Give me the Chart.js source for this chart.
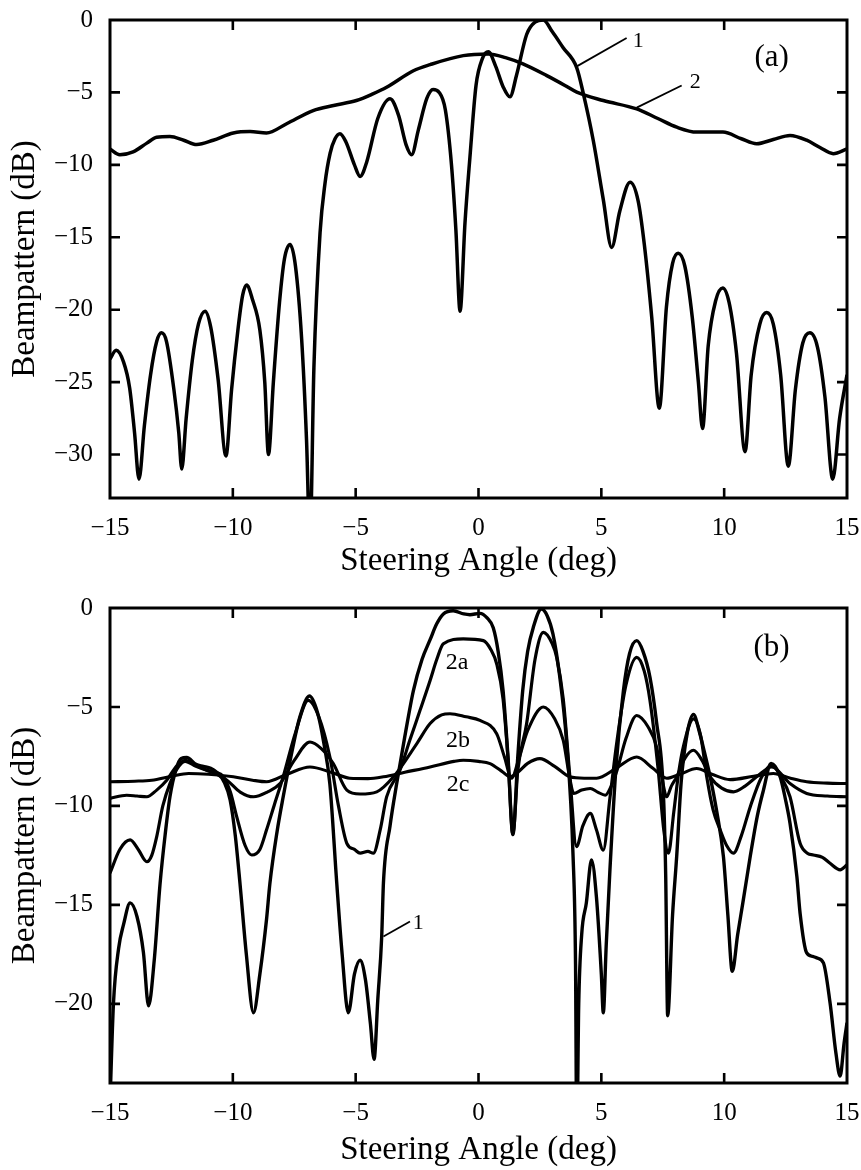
<!DOCTYPE html>
<html>
<head>
<meta charset="utf-8">
<script src="https://cdn.jsdelivr.net/npm/chart.js@4.4.1/dist/chart.umd.min.js"></script>
<style>
  html, body { margin: 0; padding: 0; background: #fff; }
  #wrap { position: relative; width: 861px; height: 1170px; background: #fff; }
  .panel { position: absolute; left: 0; width: 861px; height: 585px; }
</style>
</head>
<body>
<div id="wrap">
  <div class="panel" style="top:0"><canvas id="ca" width="861" height="585"></canvas></div>
  <div class="panel" style="top:585px"><canvas id="cb" width="861" height="585"></canvas></div>
</div>
<script>
// ---------------- DATA ----------------
const xTickValues = [-15, -10, -5, 0, 5, 10, 15];
const yTickValuesA = [0, -5, -10, -15, -20, -25, -30];
const yTickValuesB = [0, -5, -10, -15, -20];

// Panel (a), curve 1
const a1Angle = [-15.0,-14.75,-14.45,-14.2,-14.0,-13.82,-13.6,-13.35,-13.1,-12.9,-12.7,-12.4,-12.2,-12.08,-11.9,-11.65,-11.4,-11.13,-10.9,-10.6,-10.28,-10.05,-9.8,-9.6,-9.44,-9.2,-8.9,-8.7,-8.55,-8.35,-8.1,-7.9,-7.67,-7.45,-7.2,-7.0,-6.86,-6.7,-6.45,-6.25,-6.04,-5.84,-5.64,-5.4,-5.05,-4.82,-4.55,-4.1,-3.6,-3.25,-2.95,-2.72,-2.45,-2.1,-1.85,-1.6,-1.35,-1.1,-0.92,-0.75,-0.55,-0.35,-0.1,0.15,0.4,0.7,1.0,1.28,1.55,1.96,2.3,2.64,3.0,3.44,4.0,4.27,4.67,5.08,5.42,5.75,6.17,6.5,6.75,7.05,7.36,7.65,7.9,8.13,8.4,8.7,8.95,9.12,9.35,9.65,9.94,10.2,10.5,10.85,11.1,11.45,11.73,12.0,12.3,12.61,12.9,13.2,13.49,13.8,14.1,14.42,14.7,15.0];
const a1Value = [-23.4,-22.8,-23.6,-25.4,-28.5,-31.7,-28.0,-24.5,-22.2,-21.6,-22.2,-25.5,-28.5,-31.0,-27.5,-23.5,-21.0,-20.1,-21.2,-24.8,-30.1,-25.5,-21.5,-19.0,-18.3,-19.3,-21.4,-25.0,-30.0,-25.0,-19.5,-16.5,-15.5,-17.0,-22.0,-29.0,-36.0,-24.0,-14.7,-11.3,-9.2,-8.2,-7.85,-8.4,-10.0,-10.8,-9.8,-6.8,-5.44,-6.6,-8.6,-9.3,-7.6,-5.4,-4.8,-5.0,-6.2,-10.0,-14.5,-20.1,-14.0,-9.5,-4.5,-2.7,-2.2,-3.2,-4.6,-5.3,-3.8,-1.0,-0.15,0.0,-0.8,-1.9,-3.3,-5.1,-8.3,-12.4,-15.7,-13.2,-11.2,-12.5,-15.5,-20.5,-26.8,-19.8,-16.8,-16.1,-17.0,-20.5,-25.0,-28.2,-22.5,-19.4,-18.5,-19.5,-23.0,-29.8,-24.5,-21.0,-20.2,-21.0,-24.5,-30.8,-25.5,-22.3,-21.6,-22.6,-26.0,-31.7,-27.5,-24.5];

// Panel (a), curve 2
const a2Angle = [-15,-14.6,-14.06,-13.5,-13.1,-12.56,-12.0,-11.47,-10.8,-9.98,-9.3,-8.63,-7.81,-6.73,-5.9,-4.97,-4.3,-3.74,-2.65,-1.97,-0.62,0.4,1.1,1.81,2.78,3.5,4.0,5.08,6.44,7.3,8.07,8.88,9.95,10.7,11.32,12.0,12.68,13.36,13.9,14.44,15];
const a2Value = [-8.9,-9.3,-9.1,-8.5,-8.1,-8.04,-8.3,-8.6,-8.3,-7.8,-7.7,-7.8,-7.16,-6.25,-5.9,-5.56,-5.1,-4.64,-3.5,-3.08,-2.46,-2.35,-2.6,-3.03,-3.84,-4.5,-4.98,-5.56,-6.14,-6.8,-7.4,-7.74,-7.74,-8.2,-8.54,-8.25,-7.97,-8.3,-8.8,-9.23,-8.9];

// Panel (b), curve 1
const b1Angle = [-15.0,-14.86,-14.65,-14.45,-14.18,-13.9,-13.64,-13.43,-13.2,-12.96,-12.75,-12.56,-12.3,-12.1,-11.88,-11.5,-11.2,-10.9,-10.66,-10.35,-10.11,-9.9,-9.71,-9.45,-9.16,-8.9,-8.63,-8.49,-8.2,-7.95,-7.6,-7.27,-6.88,-6.55,-6.3,-6.05,-5.77,-5.55,-5.3,-5.05,-4.82,-4.6,-4.4,-4.25,-4.1,-3.94,-3.87,-3.6,-3.33,-3.0,-2.65,-2.3,-1.97,-1.7,-1.43,-1.03,-0.6,-0.35,0.06,0.35,0.6,0.8,1.0,1.2,1.4,1.6,1.8,2.0,2.23,2.56,2.8,3.03,3.3,3.58,3.85,3.95,4.0,4.08,4.2,4.39,4.6,4.8,5.0,5.08,5.2,5.35,5.6,5.9,6.15,6.44,6.7,6.98,7.25,7.52,7.62,7.7,7.9,8.07,8.25,8.5,8.75,9.0,9.2,9.43,9.7,9.97,10.15,10.33,10.55,10.76,11.06,11.35,11.6,11.91,12.28,12.5,12.68,12.96,13.09,13.36,13.6,13.77,14.04,14.31,14.55,14.72,14.88,15.0];
const b1Value = [-25.0,-20.0,-17.2,-16.0,-14.9,-15.6,-17.4,-20.1,-17.8,-13.9,-11.4,-9.54,-8.1,-7.6,-7.55,-7.9,-8.0,-8.1,-8.3,-8.8,-9.7,-11.5,-13.9,-17.5,-20.45,-18.5,-15.75,-13.9,-11.3,-9.54,-7.3,-5.5,-4.45,-5.3,-6.8,-8.9,-13.9,-17.5,-20.45,-18.5,-17.8,-18.8,-21.0,-22.8,-19.8,-16.6,-13.9,-11.0,-8.87,-6.5,-4.17,-2.6,-1.6,-0.8,-0.3,-0.14,-0.3,-0.34,-0.27,-0.5,-1.0,-2.2,-4.17,-7.5,-11.45,-7.5,-4.17,-2.2,-0.98,-0.05,-0.4,-1.31,-3.4,-6.69,-12.56,-18.0,-27.0,-20.0,-16.5,-14.9,-12.73,-14.6,-18.5,-20.45,-17.0,-13.23,-8.0,-4.17,-2.3,-1.65,-2.2,-3.5,-5.8,-9.2,-13.5,-20.6,-15.5,-12.5,-8.8,-6.3,-5.38,-6.3,-7.3,-8.53,-10.3,-12.56,-15.5,-18.36,-16.5,-14.9,-12.56,-10.5,-9.2,-7.86,-8.53,-9.7,-10.88,-13.57,-15.42,-17.43,-17.6,-17.68,-17.93,-19.95,-22.5,-23.65,-22.0,-20.96];

// Panel (b), curve 2a
const b2aAngle = [-15.0,-14.6,-14.18,-13.85,-13.5,-13.3,-13.1,-12.85,-12.56,-12.2,-11.94,-11.5,-11.06,-10.7,-10.38,-10.1,-9.84,-9.5,-9.23,-8.9,-8.63,-8.3,-7.95,-7.45,-6.93,-6.5,-6.05,-5.7,-5.36,-5.05,-4.82,-4.5,-4.28,-4.0,-3.74,-3.2,-2.8,-2.38,-1.97,-1.7,-1.43,-0.62,0.2,0.5,0.74,1.0,1.2,1.4,1.6,1.96,2.3,2.64,3.0,3.18,3.45,3.72,3.99,4.25,4.55,4.8,5.08,5.35,5.64,6.0,6.44,6.75,6.98,7.3,7.55,7.73,7.95,8.15,8.34,8.75,9.05,9.29,9.55,9.84,10.1,10.38,10.7,11.06,11.5,11.94,12.3,12.68,13.09,13.4,13.63,14.0,14.31,14.72,15.0];
const b2aValue = [-13.4,-12.2,-11.72,-12.2,-12.82,-12.5,-11.56,-10.0,-8.87,-8.0,-7.75,-8.0,-8.2,-8.3,-8.53,-9.3,-10.55,-12.0,-12.48,-12.2,-11.22,-9.9,-8.53,-6.3,-4.67,-5.5,-7.53,-10.0,-11.89,-12.2,-12.39,-12.3,-12.39,-11.2,-9.54,-8.2,-6.7,-5.17,-3.66,-2.6,-1.81,-1.56,-1.65,-2.1,-2.82,-4.6,-7.6,-11.45,-8.2,-5.84,-2.6,-1.23,-1.8,-2.49,-4.6,-8.53,-12.06,-11.0,-10.38,-11.2,-12.23,-9.6,-6.69,-3.9,-2.49,-3.2,-4.67,-8.0,-11.3,-12.39,-10.3,-8.3,-7.0,-5.6,-6.5,-8.53,-10.2,-11.22,-12.0,-12.39,-11.5,-10.05,-8.6,-7.94,-8.5,-9.54,-11.89,-12.4,-12.48,-12.6,-12.9,-13.23,-12.98];

// Panel (b), curve 2b
const b2bAngle = [-15.0,-14.32,-13.9,-13.5,-13.1,-12.69,-12.3,-11.94,-11.5,-11.06,-10.65,-10.24,-9.7,-9.16,-8.6,-8.08,-7.5,-6.86,-6.4,-5.91,-5.36,-4.82,-4.14,-3.46,-2.51,-1.97,-1.5,-1.16,-0.5,0.06,0.74,1.05,1.35,1.6,2.0,2.64,3.1,3.45,3.7,3.88,4.2,4.55,4.85,5.16,5.4,5.64,6.0,6.44,6.9,7.25,7.5,7.66,7.85,8.07,8.4,8.75,9.1,9.43,9.9,10.38,10.85,11.32,11.94,12.68,13.36,14.2,15.0];
const b2bValue = [-9.62,-9.46,-9.5,-9.54,-9.2,-8.7,-8.0,-7.69,-7.95,-8.2,-8.4,-8.7,-9.3,-9.54,-9.3,-8.87,-7.7,-6.77,-7.1,-7.86,-9.2,-9.4,-9.29,-8.53,-6.85,-5.84,-5.4,-5.34,-5.5,-5.68,-6.35,-7.5,-8.6,-7.8,-6.2,-5.0,-5.6,-6.69,-8.5,-9.37,-9.2,-9.12,-9.3,-9.46,-9.0,-8.2,-6.6,-5.43,-6.0,-7.02,-8.8,-9.54,-9.0,-8.53,-7.6,-7.19,-7.7,-8.53,-9.1,-9.29,-9.0,-8.53,-8.03,-8.87,-9.37,-9.5,-9.54];

// Panel (b), curve 2c
const b2cAngle = [-15,-14,-13.3,-12.5,-11.8,-11.0,-9.98,-9.2,-8.63,-7.8,-6.86,-6.0,-5.24,-4.5,-3.87,-3.0,-1.97,-1.0,-0.62,0.0,0.47,1.0,1.28,1.6,2.0,2.5,3.1,3.72,4.3,4.81,5.6,6.44,7.1,7.66,8.2,8.88,9.5,10.24,11.2,12.0,12.7,13.36,14.2,15];
const b2cValue = [-8.78,-8.75,-8.7,-8.5,-8.36,-8.4,-8.53,-8.7,-8.78,-8.4,-8.03,-8.3,-8.6,-8.62,-8.53,-8.3,-8.03,-7.75,-7.69,-7.75,-7.86,-8.3,-8.53,-8.3,-7.85,-7.61,-8.0,-8.53,-8.6,-8.6,-8.1,-7.53,-8.1,-8.6,-8.4,-8.11,-8.4,-8.67,-8.5,-8.36,-8.6,-8.78,-8.85,-8.87];

// ---------------- STYLE / HELPERS ----------------
const FAMILY = '"Liberation Serif", "Times New Roman", serif';
const toPts = (xs, ys) => xs.map((x, i) => ({ x: x, y: ys[i] }));
const fmt = v => String(v).replace('-', '\u2212');

function ds(xs, ys, w) {
  return { data: toPts(xs, ys), borderColor: '#000', borderWidth: w, pointRadius: 0,
           fill: false, cubicInterpolationMode: 'monotone', clip: 1 };
}

// frame + inward ticks, plus text annotations
const framePlugin = {
  id: 'frame',
  afterDatasetsDraw(chart, args, opts) {
    const { ctx, chartArea: a, scales: { x, y } } = chart;
    ctx.save();
    ctx.strokeStyle = '#000';
    ctx.lineWidth = 3;
    ctx.strokeRect(a.left, a.top, a.right - a.left, a.bottom - a.top);
    ctx.lineWidth = 2.6;
    const tl = 10;
    ctx.beginPath();
    x.ticks.forEach(t => {
      if (t.value <= x.min || t.value >= x.max) return;
      const px = x.getPixelForValue(t.value);
      ctx.moveTo(px, a.bottom); ctx.lineTo(px, a.bottom - tl);
      ctx.moveTo(px, a.top); ctx.lineTo(px, a.top + tl);
    });
    y.ticks.forEach(t => {
      if (t.value <= y.min || t.value >= y.max) return;
      const py = y.getPixelForValue(t.value);
      ctx.moveTo(a.left, py); ctx.lineTo(a.left + tl, py);
      ctx.moveTo(a.right, py); ctx.lineTo(a.right - tl, py);
    });
    ctx.stroke();
    // annotations
    (opts.leaders || []).forEach(l => {
      ctx.lineWidth = 1.8;
      ctx.beginPath();
      ctx.moveTo(x.getPixelForValue(l[0]), y.getPixelForValue(l[1]));
      ctx.lineTo(x.getPixelForValue(l[2]), y.getPixelForValue(l[3]));
      ctx.stroke();
    });
    ctx.fillStyle = '#000';
    ctx.textAlign = 'center';
    ctx.textBaseline = 'middle';
    (opts.labels || []).forEach(l => {
      ctx.font = l.size + 'px ' + FAMILY;
      ctx.fillText(l.text, x.getPixelForValue(l.x), y.getPixelForValue(l.y));
    });
    ctx.restore();
  }
};

function makeChart(id, datasets, yMin, yTicks, padTop, titlePadBottom, annot) {
  return new Chart(document.getElementById(id), {
    type: 'line',
    data: { datasets: datasets },
    plugins: [framePlugin],
    options: {
      responsive: false,
      animation: false,
      events: [],
      layout: { padding: { top: padTop, right: 14, left: 0, bottom: 0 } },
      plugins: { legend: { display: false }, tooltip: { enabled: false }, frame: annot },
      scales: {
        x: {
          type: 'linear', min: -15, max: 15,
          grid: { display: false }, border: { display: false },
          afterBuildTicks: s => { s.ticks = xTickValues.map(v => ({ value: v })); },
          afterFit: s => { s.height = 87; s.paddingLeft = 0; s.paddingRight = 0; },
          ticks: { color: '#000', font: { family: FAMILY, size: 25 }, padding: 7,
                   maxRotation: 0, autoSkip: false, callback: v => fmt(v) },
          title: { display: true, text: 'Steering Angle (deg)', color: '#000',
                   font: { family: FAMILY, size: 33 }, padding: { top: 0, bottom: titlePadBottom } }
        },
        y: {
          type: 'linear', min: yMin, max: 0,
          grid: { display: false }, border: { display: false },
          afterBuildTicks: s => { s.ticks = yTicks.map(v => ({ value: v })); },
          afterFit: s => { s.width = 110; s.paddingTop = 0; s.paddingBottom = 0; },
          ticks: { color: '#000', font: { family: FAMILY, size: 25 }, padding: 9,
                   autoSkip: false, callback: v => fmt(v) },
          title: { display: true, text: 'Beampattern (dB)', color: '#000',
                   font: { family: FAMILY, size: 33 }, padding: { top: 6, bottom: 0 } }
        }
      }
    }
  });
}

makeChart('ca', [ds(a1Angle, a1Value, 3.5), ds(a2Angle, a2Value, 3.5)], -33, yTickValuesA, 20, 4, {
  leaders: [[4.0, -3.2, 6.03, -1.24], [6.44, -6.05, 8.27, -4.52]],
  labels: [
    { text: '1', x: 6.5, y: -1.45, size: 22 },
    { text: '2', x: 8.82, y: -4.3, size: 22 },
    { text: '(a)', x: 11.93, y: -2.6, size: 31 }
  ]
});

makeChart('cb', [ds(b2cAngle, b2cValue, 3.1), ds(b2bAngle, b2bValue, 3.1), ds(b2aAngle, b2aValue, 3.2), ds(b1Angle, b1Value, 3.4)], -24, yTickValuesB, 23, 0, {
  leaders: [[-3.87, -16.6, -2.79, -15.84]],
  labels: [
    { text: '2a', x: -0.87, y: -2.74, size: 24 },
    { text: '2b', x: -0.83, y: -6.69, size: 24 },
    { text: '2c', x: -0.83, y: -8.95, size: 24 },
    { text: '1', x: -2.45, y: -15.92, size: 22 },
    { text: '(b)', x: 11.93, y: -2.0, size: 31 }
  ]
});
</script>
</body>
</html>
